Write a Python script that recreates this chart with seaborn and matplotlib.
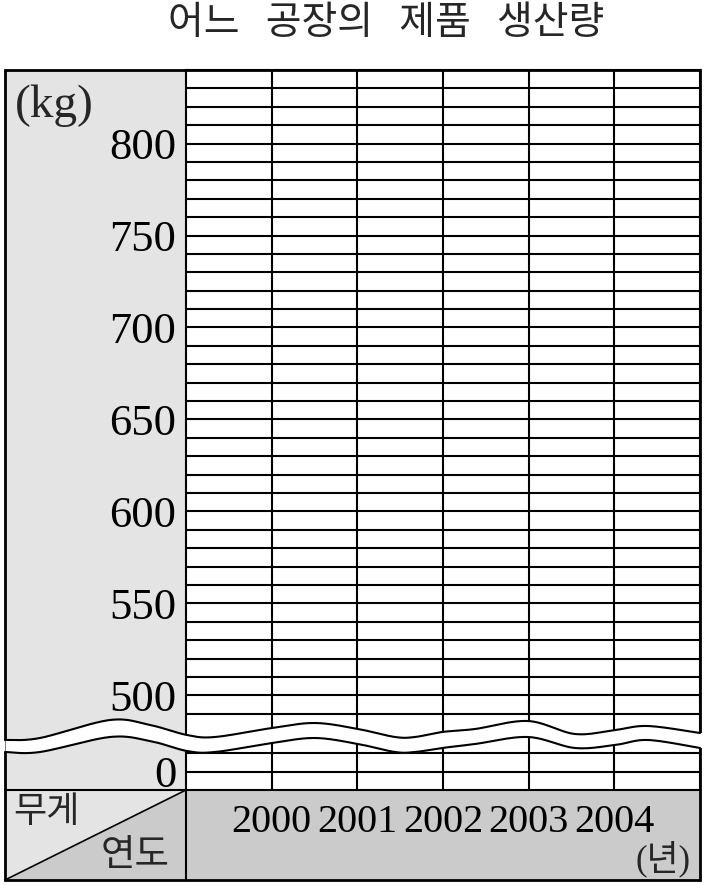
import numpy as np
import matplotlib
matplotlib.use("Agg")
import matplotlib.pyplot as plt
import seaborn as sns
from matplotlib.patches import Rectangle, Polygon

# --- chart texts and values ---
title = "어느   공장의   제품   생산량"
years = [2000, 2001, 2002, 2003, 2004]
year_labels = ["2000", "2001", "2002", "2003", "2004"]
weight_ticks = [500, 550, 600, 650, 700, 750, 800]
weight_rules = [490, 500, 510, 520, 530, 540, 550, 560, 570, 580, 590, 600, 610, 620,
                630, 640, 650, 660, 670, 680, 690, 700, 710, 720, 730, 740, 750, 760,
                770, 780, 790, 800, 810, 820, 830]
low_ticks = [0]
low_rules = [0, 10]
unit_label = "(kg)"
year_unit = "(년)"
corner_top = "무게"
corner_bottom = "연도"

# wavy break line (pixel coords of the 705x885 canvas)
wave_x = [5, 40, 110, 150, 187, 215, 272, 315, 358, 395, 415, 442, 475, 528, 575, 615, 648, 700]
wave_top = [740, 738, 720, 725, 735, 737, 728, 723, 729, 737, 737, 732, 729, 721, 734, 730, 726, 733]
wave_bottom = [752, 752, 737, 741, 751, 752, 743, 738, 744, 752, 752, 748, 744, 737, 748, 745, 740, 748]

# layout
W, H = 705, 885
Y_TOP = 840
BREAK_SHIFT = 458.5   # where the lower section's 0 sits on the shared y scale
LIGHT = "#e4e4e4"
DARK = "#cbcbcb"
KR = "Noto Sans CJK KR"

sns.set_theme(style="white")
plt.rcParams["font.family"] = ["Liberation Serif", KR]


def catmull(xs, ys, n=24):
    pts = np.column_stack([xs, ys]).astype(float)
    pts = np.vstack([pts[0], pts, pts[-1]])
    out = []
    t = np.linspace(0, 1, n)[:, None]
    for i in range(1, len(pts) - 2):
        p0, p1, p2, p3 = pts[i - 1], pts[i], pts[i + 1], pts[i + 2]
        seg = 0.5 * ((2 * p1) + (-p0 + p2) * t + (2 * p0 - 5 * p1 + 4 * p2 - p3) * t ** 2
                     + (-p0 + 3 * p1 - 3 * p2 + p3) * t ** 3)
        out.append(seg if i == 1 else seg[1:])
    out = np.vstack(out)
    return out[:, 0], out[:, 1]


fig = plt.figure(figsize=(W / 100, H / 100), dpi=100)
fig.patch.set_facecolor("white")

# background panels
bg = fig.add_axes([0, 0, 1, 1], zorder=0)
bg.set_xlim(0, W)
bg.set_ylim(H, 0)
bg.axis("off")
bg.add_patch(Rectangle((5, 70), 181, 720, facecolor=LIGHT, edgecolor="none"))
bg.add_patch(Rectangle((186, 790), 514, 90, facecolor=DARK, edgecolor="none"))
bg.add_patch(Polygon([(5, 790), (186, 790), (5, 880)], closed=True, facecolor=LIGHT, edgecolor="none"))
bg.add_patch(Polygon([(186, 790), (186, 880), (5, 880)], closed=True, facecolor=DARK, edgecolor="none"))

# main grid
ax = fig.add_axes([186 / W, 1 - 790 / H, 514 / W, 720 / H], zorder=1)
ax.set_facecolor("white")
ax.set_xlim(1999, 2005)
ax.set_ylim(BREAK_SHIFT - 10, Y_TOP)
ax.hlines(weight_rules, 1999, 2005, color="black", lw=1.5)
ax.hlines([BREAK_SHIFT + v for v in low_rules], 1999, 2005, color="black", lw=1.5)
ax.vlines(years, BREAK_SHIFT - 10, Y_TOP, color="black", lw=1.5)
ax.set_yticks(weight_ticks + [BREAK_SHIFT + v for v in low_ticks])
ax.set_yticklabels([str(v) for v in weight_ticks] + [str(v) for v in low_ticks], va="center_baseline")
ax.set_xticks(years)
ax.set_xticklabels(year_labels)
ax.tick_params(axis="y", length=0, pad=7, labelsize=32, labelcolor="black")
ax.tick_params(axis="x", length=0, pad=10, labelsize=29, labelcolor="black")
for s in ax.spines.values():
    s.set_color("black")
    s.set_linewidth(1.5)
ax.grid(False)

# overlay: frame, header cell and the wavy break
ov = fig.add_axes([0, 0, 1, 1], zorder=5)
ov.set_xlim(0, W)
ov.set_ylim(H, 0)
ov.axis("off")
ov.patch.set_alpha(0)
ov.add_patch(Rectangle((5, 70), 695, 810, fill=False, edgecolor="black", lw=2))
ov.plot([5, 186], [790, 790], color="black", lw=1.5)
ov.plot([186, 186], [790, 880], color="black", lw=1.5)
ov.plot([5, 186], [880, 790], color="black", lw=1.2)

wx, wt = catmull(wave_x, wave_top)
_, wb = catmull(wave_x, wave_bottom)
ov.fill_between(wx, wt, wb, color="white", lw=0)
ov.fill_between([3, 5], [wave_top[0]] * 2, [wave_bottom[0]] * 2, color="white", lw=0)
ov.fill_between([700, 703], [wave_top[-1]] * 2, [wave_bottom[-1]] * 2, color="white", lw=0)
ov.plot(wx, wt, color="black", lw=1.5)
ov.plot(wx, wb, color="black", lw=1.5)

# texts
fig.text(386 / W, 1 - 23 / H, title, ha="center", va="center", fontsize=28, family=KR)
fig.text(15 / W, 1 - 106 / H, unit_label, ha="left", va="center", fontsize=34)
fig.text(46 / W, 1 - 812 / H, corner_top, ha="center", va="center", fontsize=26, family=KR)
fig.text(135 / W, 1 - 856 / H, corner_bottom, ha="center", va="center", fontsize=27, family=KR)
fig.text(663 / W, 1 - 859 / H, year_unit, ha="center", va="center", fontsize=25,
         family=["Liberation Serif", KR])

fig.savefig("out.png", dpi=100, facecolor="white")
